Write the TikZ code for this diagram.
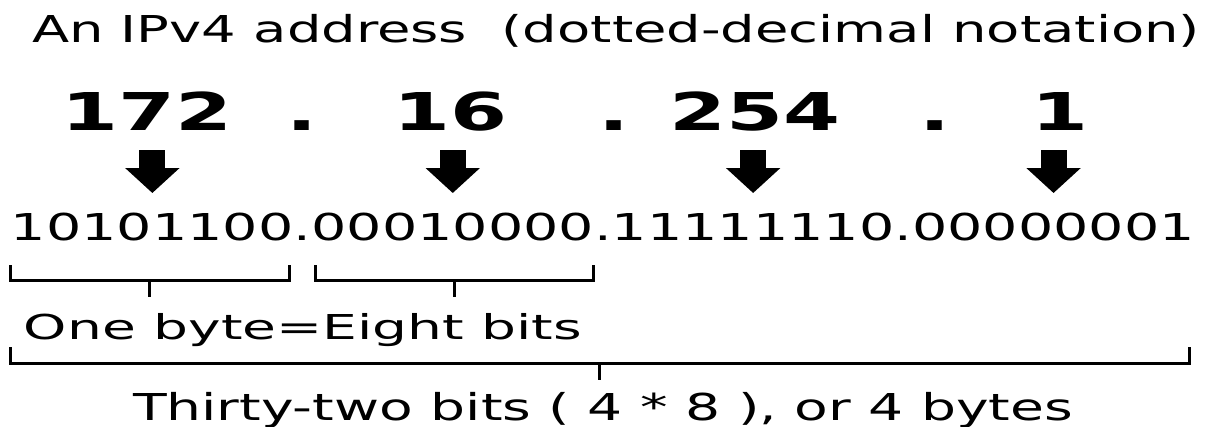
\documentclass[tikz,border=0pt]{standalone}
\usepackage{fontspec}
\setmainfont{DejaVu Sans}
\usetikzlibrary{arrows.meta,positioning}

% scale a text to a given width and cap height
\newcommand\fitbox[3]{\resizebox{#1}{#2}{\smash{#3}\rule{0pt}{\fontcharht\font`X}}}

\begin{document}
\begin{tikzpicture}[
    x=0.1mm, y=-0.1mm,
    txt/.style={inner sep=0pt, outer sep=0pt, anchor=south west},
    num/.style={inner sep=0pt, outer sep=0pt, anchor=south, font=\bfseries},
    bits/.style={inner sep=0pt, outer sep=0pt},
    fatarrow/.style={line width=2.6mm, -{Triangle[width=5.3mm,length=2.5mm]}, shorten <=2mm, shorten >=2mm},
    bracket/.style={line width=0.3mm}
]
\useasboundingbox (0,0) rectangle (1209,426);

\node[txt] (title) at (32,42) {\fitbox{116.8mm}{2.7mm}{An IPv4 address\ \ (dotted-decimal notation)}};

% decimal octets
\node[num] (n1) at (147,130) {\fitbox{17.1mm}{3.8mm}{172}};
\node[num] (p1) at (302,130) {\fitbox{3.1mm}{3.8mm}{.}};
\node[num] (n2) at (450,130) {\fitbox{11.4mm}{3.8mm}{16}};
\node[num] (p2) at (614,130) {\fitbox{3.1mm}{3.8mm}{.}};
\node[num] (n3) at (755,130) {\fitbox{17.1mm}{3.8mm}{254}};
\node[num] (p3) at (935,130) {\fitbox{3.1mm}{3.8mm}{.}};
\node[num] (n4) at (1060,130) {\fitbox{5.7mm}{3.8mm}{1}};

% binary octets
\node[bits, anchor=south west] (b1) at (11,240) {\fitbox{28.27mm}{2.7mm}{10101100}};
\node[bits, right=0pt of b1] (d1) {\fitbox{1.77mm}{2.7mm}{.}};
\node[bits, right=0pt of d1] (b2) {\fitbox{28.27mm}{2.7mm}{00010000}};
\node[bits, right=0pt of b2] (d2) {\fitbox{1.77mm}{2.7mm}{.}};
\node[bits, right=0pt of d2] (b3) {\fitbox{28.27mm}{2.7mm}{11111110}};
\node[bits, right=0pt of b3] (d3) {\fitbox{1.77mm}{2.7mm}{.}};
\node[bits, right=0pt of d3] (b4) {\fitbox{28.27mm}{2.7mm}{00000001}};

\draw[fatarrow] (n1.south -| b1.north) -- (b1.north);
\draw[fatarrow] (n2.south -| b2.north) -- (b2.north);
\draw[fatarrow] (n3.south -| b3.north) -- (b3.north);
\draw[fatarrow] (n4.south -| b4.north) -- (b4.north);

% byte brackets
\draw[bracket] ([shift={(-1,25)}]b1.south west) -- ++(0,15) -| coordinate[pos=0.25] (m1) ([shift={(-4,25)}]b1.south east);
\draw[bracket] (m1) -- ++(0,17);
\draw[bracket] ([shift={(4,25)}]b2.south west) -- ++(0,15) -| coordinate[pos=0.25] (m2) ([shift={(-1,25)}]b2.south east);
\draw[bracket] (m2) -- ++(0,17);

\node[txt] (onebyte) at (24,339) {\fitbox{55.8mm}{2.5mm}{One byte=Eight bits}};

% whole address
\draw[bracket] ([shift={(-1,107)}]b1.south west) -- ++(0,16) -| coordinate[pos=0.25] (m3) ([shift={(-5,107)}]b4.south east);
\draw[bracket] (m3) -- ++(0,17);

\node[txt] (total) at (133,420) {\fitbox{94.0mm}{2.7mm}{Thirty-two bits ( 4 * 8 ), or 4 bytes}};
\end{tikzpicture}
\end{document}
